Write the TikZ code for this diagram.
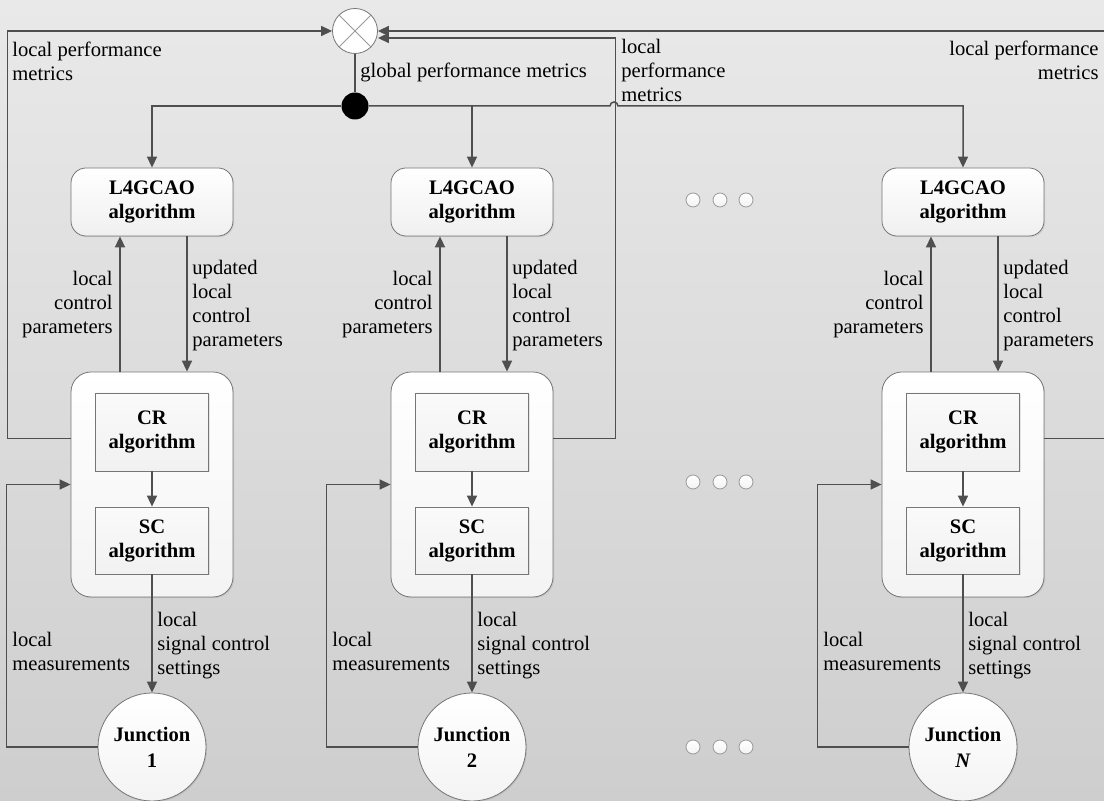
\documentclass[tikz,border=0pt]{standalone}
\usepackage{fontspec}
\setmainfont{Liberation Serif}
\usetikzlibrary{arrows.meta,shadows}
\definecolor{linegray}{HTML}{4F4F4F}
\definecolor{boxgray}{HTML}{767676}
\definecolor{bgtop}{HTML}{E9E9E9}
\definecolor{bgbot}{HTML}{CECECE}

\begin{document}
\begin{tikzpicture}[x=0.5pt, y=-0.5pt,
	every node/.style={font=\fontsize{10.3}{12}\selectfont},
	line/.style={draw=linegray, line width=0.75pt},
	arr/.style={line, -{Triangle[length=5.5pt,width=5pt]}},
	shade/.style={drop shadow={opacity=0.18, shadow xshift=0.6pt, shadow yshift=-0.6pt}},
	algo/.style={shade, draw=boxgray, rounded corners=7.5pt, top color=white, bottom color=gray!12,
		minimum width=81pt, minimum height=34pt, align=center, font=\fontsize{10.3}{12}\selectfont\bfseries},
	outer/.style={shade, draw=boxgray, rounded corners=10pt, top color=white, bottom color=gray!9,
		minimum width=81pt, minimum height=112.5pt},
	inner/.style={shade, draw=boxgray, top color=gray!4, bottom color=gray!11,
		minimum width=56.5pt, align=center, font=\fontsize{10.3}{12}\selectfont\bfseries},
	junction/.style={shade, circle, draw=boxgray, top color=white, bottom color=gray!9, inner sep=0pt,
		minimum size=54pt, align=center, font=\fontsize{10.3}{13}\selectfont\bfseries},
	mult/.style={circle, draw=boxgray, fill=white, inner sep=0pt, minimum size=22.5pt},
	split/.style={circle, fill=black, inner sep=0pt, minimum size=13.5pt},
	dot/.style={circle, draw=gray!80, top color=white, bottom color=gray!10, inner sep=0pt, minimum size=7pt},
	lbl/.style={inner sep=0pt}]

\useasboundingbox (0,0) rectangle (1104,801);
\shade[top color=bgtop, bottom color=bgbot] (0,0) rectangle (1104,801);

\node[mult] (mult) at (355,31) {};
\draw[draw=gray!80, line width=0.5pt] (mult.45) -- (mult.225) (mult.135) -- (mult.315);
\node[split] (split) at (355,106) {};
\draw[line] (mult) -- (split);

\foreach \i/\cx/\jn in {1/152/1, 2/472/2, 3/963/\textit{N}} {
	\node[algo] (alg\i) at (\cx,202) {L4GCAO\\algorithm};
	\node[outer] (ctl\i) at (\cx,484.5) {};
	\node[inner, minimum height=39pt] (cr\i) at (\cx,432) {CR\\algorithm};
	\node[inner, minimum height=33.5pt] (sc\i) at (\cx,540.5) {SC\\algorithm};
	\node[junction] (jn\i) at (\cx,747) {Junction\\\jn};
	\draw[arr] ([xshift=-16pt]ctl\i.north) -- ([xshift=-16pt]alg\i.south);
	\draw[arr] ([xshift=17.5pt]alg\i.south) -- ([xshift=17.5pt]ctl\i.north);
	\draw[arr] (cr\i) -- (sc\i);
	\draw[arr] (sc\i) -- (jn\i);
	\draw[arr] (jn\i.west) -- ++(-91,0) |- (ctl\i.west);
	\node[lbl, anchor=east, align=right] (lcp\i) at (\cx-39,305) {local\\control\\parameters};
	\node[lbl, anchor=west, align=left] (ulcp\i) at (\cx+40,306) {updated\\local\\control\\parameters};
	\node[lbl, anchor=west, align=left] (lm\i) at (\cx-140,651) {local\\measurements};
	\node[lbl, anchor=west, align=left] (lsc\i) at (\cx+5,646) {local\\signal control\\settings};
}

\draw[arr] (split) -| (alg1);
\draw[arr] (split -| alg2) -- (alg2);
\draw[arr] (split) -- (610,106) arc[start angle=180, end angle=0, radius=2pt] -| (alg3);

\draw[arr] ([yshift=23pt]ctl1.west) -- ++(-63,0) |- (mult);
\draw[arr] ([yshift=23pt]ctl2.east) -- ++(62,0) |- ([yshift=-3.5pt]mult.east);
\draw[arr] ([yshift=23pt]ctl3.east) -- ++(80,0) |- (mult);

\node[lbl, anchor=west, align=left] (lpm1) at (12,61) {local performance\\metrics};
\node[lbl, anchor=west] (gpm) at (360,72) {global performance metrics};
\node[lbl, anchor=west, align=left] (lpm2) at (621,70) {local\\performance\\metrics};
\node[lbl, anchor=east, align=right] (lpm3) at (1099,60) {local performance\\metrics};

\foreach \y in {200,482,747}
	\foreach \x in {693,720,746}
		\node[dot] (d\x-\y) at (\x,\y) {};
\end{tikzpicture}
\end{document}
